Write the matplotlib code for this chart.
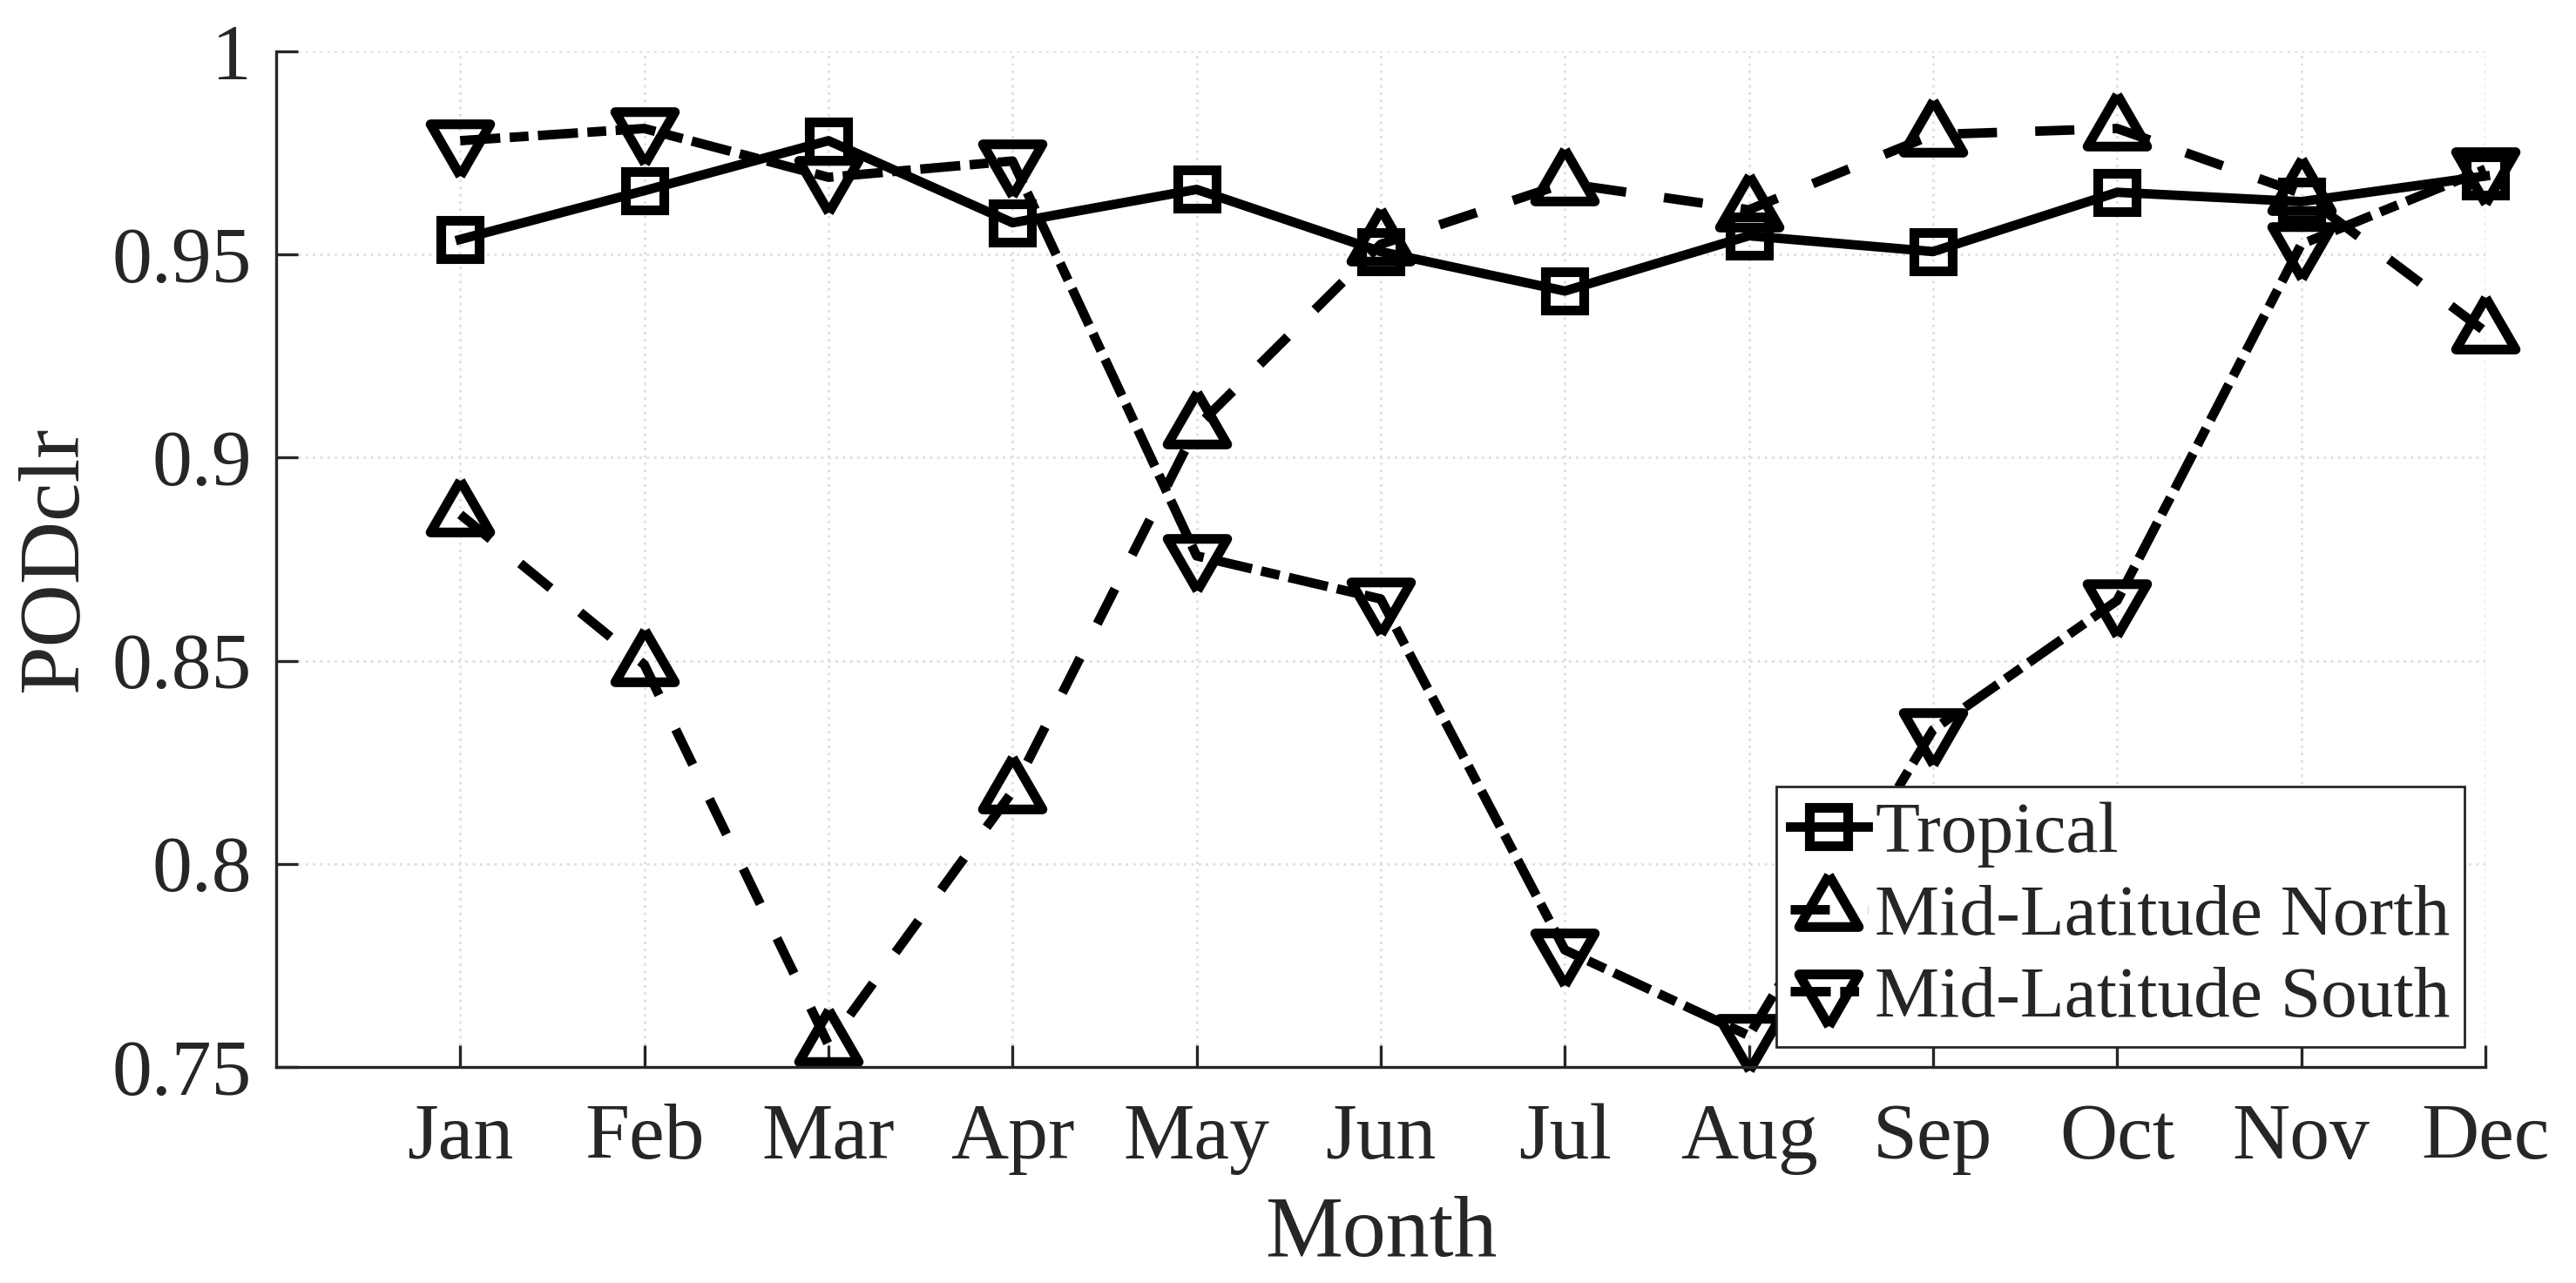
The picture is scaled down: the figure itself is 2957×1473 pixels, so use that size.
import numpy as np
import matplotlib
matplotlib.use("Agg")
import matplotlib.pyplot as plt
from matplotlib.ticker import FuncFormatter

# monthly PODclr per region
months = ['Jan', 'Feb', 'Mar', 'Apr', 'May', 'Jun',
          'Jul', 'Aug', 'Sep', 'Oct', 'Nov', 'Dec']
tropical = [0.9537, 0.9657, 0.9780, 0.9578, 0.9660, 0.9507,
            0.9410, 0.9546, 0.9507, 0.9653, 0.9630, 0.9693]
mid_north = [0.8860, 0.8490, 0.7555, 0.8178, 0.9075, 0.9525,
             0.9675, 0.9610, 0.9795, 0.9810, 0.9650, 0.9310]
mid_south = [0.9780, 0.9810, 0.9690, 0.9730, 0.8758, 0.8652,
             0.7788, 0.7577, 0.8330, 0.8648, 0.9525, 0.9710]
labels = ['Tropical', 'Mid-Latitude North', 'Mid-Latitude South']
yticks = [0.75, 0.8, 0.85, 0.9, 0.95, 1.0]

TXT = '#262626'
plt.rcParams['font.family'] = ['Liberation Serif', 'DejaVu Serif']
plt.rcParams['text.color'] = TXT
plt.rcParams['axes.labelcolor'] = TXT
plt.rcParams['xtick.color'] = TXT
plt.rcParams['ytick.color'] = TXT

# triangles centred on their centroid, like MATLAB draws them
tri_up = [(0.0, 2.0 / 3.0), (-0.577, -1.0 / 3.0), (0.577, -1.0 / 3.0), (0.0, 2.0 / 3.0)]
tri_dn = [(x, -y) for x, y in tri_up]

fig = plt.figure(figsize=(14.785, 7.365), dpi=200)
ax = fig.add_axes([0.1072, 0.1684, 0.8576, 0.7916])

x = np.arange(1, len(months) + 1)
lw = 3.9
mew = 4.0
common = dict(color='black', lw=lw, mew=mew, mfc='none', mec='black', clip_on=False)

ax.plot(x, tropical, linestyle='-', marker='s', ms=16, label=labels[0], **common)
ax.plot(x, mid_north, linestyle=(0, (4.15, 4.05)), marker=tri_up, ms=28.5,
        label=labels[1], **common)
ax.plot(x, mid_south, linestyle=(0, (4.25, 1.0, 2.0, 1.0)), marker=tri_dn, ms=28.5,
        label=labels[2], **common)

ax.set_xlim(0, 12)
ax.set_ylim(0.75, 1.0)
ax.set_xticks(x)
ax.set_xticklabels(months)
ax.set_yticks(yticks)
ax.yaxis.set_major_formatter(FuncFormatter(lambda v, p: '%g' % v))

ax.grid(True, color='#dedede', linestyle=(0, (1, 2)), linewidth=1.0)
ax.set_axisbelow(True)

for side in ['top', 'right']:
    ax.spines[side].set_visible(False)
for side in ['left', 'bottom']:
    ax.spines[side].set_color(TXT)
    ax.spines[side].set_linewidth(1.2)

ax.tick_params(axis='both', direction='in', length=9, width=1.2, labelsize=33, pad=10)
ax.tick_params(axis='x', pad=15)

ax.set_xlabel('Month', fontsize=36, va='center')
ax.set_ylabel('PODclr', fontsize=36, va='center')
ax.xaxis.set_label_coords(0.5, -0.1655)
ax.yaxis.set_label_coords(-0.100, 0.5)

leg = ax.legend(loc='lower right', bbox_to_anchor=(2829 / 2957, 1 - 1202 / 1473),
                bbox_transform=fig.transFigure, borderaxespad=0, fontsize=30,
                handlelength=1.06, handletextpad=0.1, labelspacing=0.22,
                borderpad=0.2, numpoints=1, fancybox=False, framealpha=1)
leg.get_frame().set_edgecolor(TXT)
leg.get_frame().set_linewidth(1.0)

fig.savefig('out.png', dpi=200)
